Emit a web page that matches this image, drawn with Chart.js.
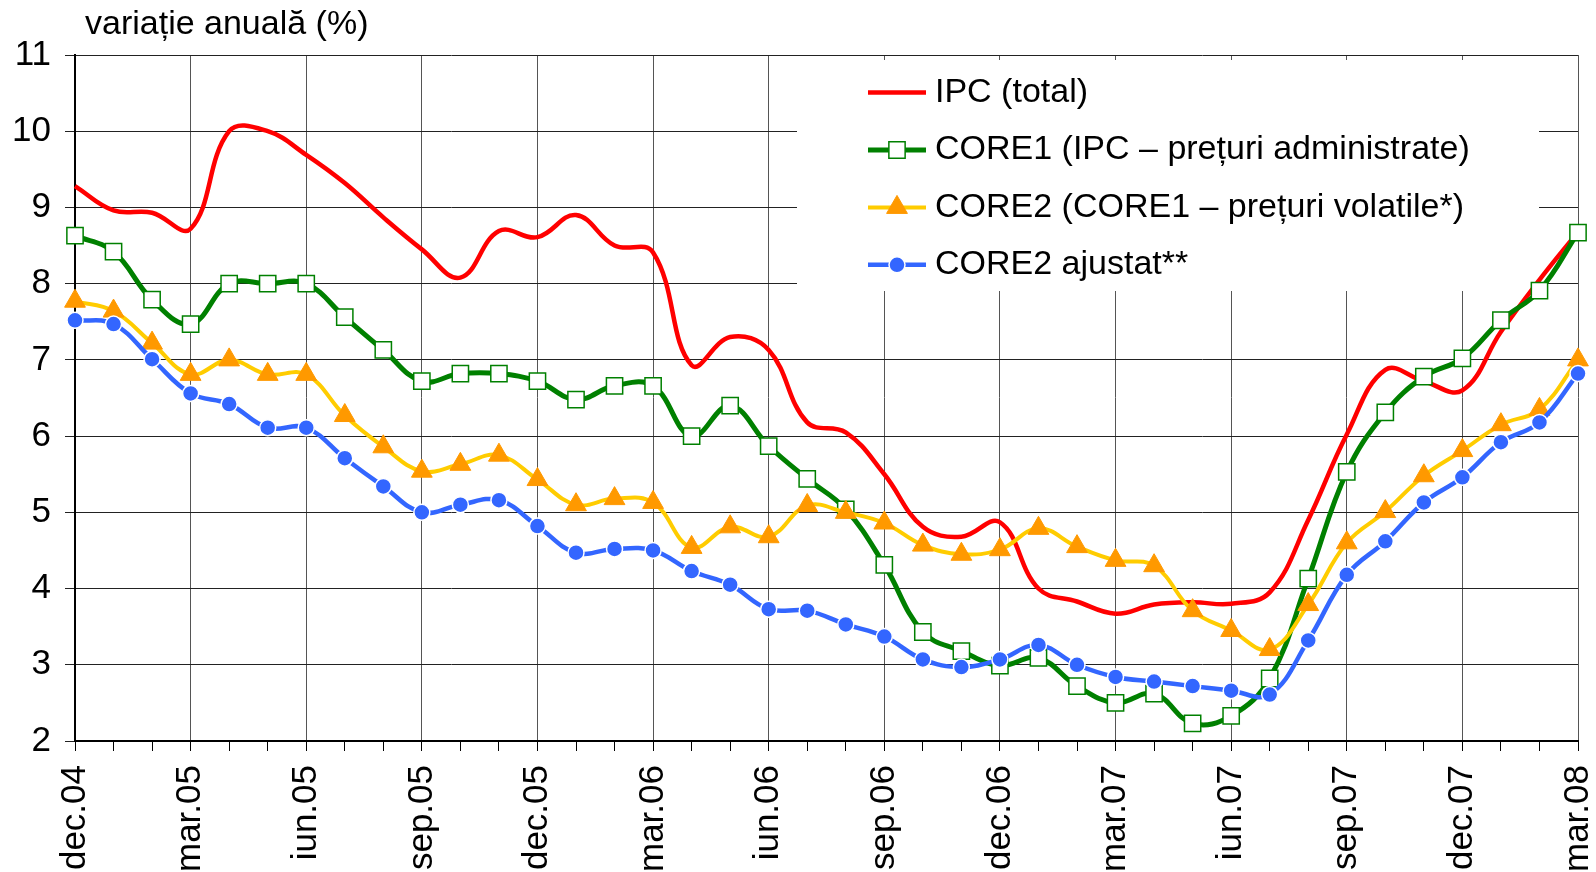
<!DOCTYPE html>
<html>
<head>
<meta charset="utf-8">
<script src="https://cdn.jsdelivr.net/npm/chart.js@4/dist/chart.umd.min.js"></script>
<style>
  html, body { margin: 0; padding: 0; background: #fff; }
  #wrap { width: 1596px; height: 872px; position: relative; }
</style>
</head>
<body>
<div id="wrap"><canvas id="myChart"></canvas></div>
<script>
const months = ['dec.04','ian.05','feb.05','mar.05','apr.05','mai.05','iun.05','iul.05','aug.05','sep.05',
  'oct.05','noi.05','dec.05','ian.06','feb.06','mar.06','apr.06','mai.06','iun.06','iul.06',
  'aug.06','sep.06','oct.06','noi.06','dec.06','ian.07','feb.07','mar.07','apr.07','mai.07',
  'iun.07','iul.07','aug.07','sep.07','oct.07','noi.07','dec.07','ian.08','feb.08','mar.08'];

const ipc = [9.28, 8.96, 8.93, 8.72, 10.0, 10.0, 9.69, 9.32, 8.87, 8.45,
  8.08, 8.69, 8.61, 8.90, 8.50, 8.41, 6.93, 7.30, 7.13, 6.18,
  6.05, 5.50, 4.81, 4.68, 4.87, 4.00, 3.83, 3.67, 3.79, 3.82,
  3.80, 3.95, 4.90, 6.02, 6.87, 6.72, 6.60, 7.37, 8.05, 8.68];

const core1 = [8.63, 8.42, 7.79, 7.47, 8.0, 8.0, 8.0, 7.56, 7.13, 6.72,
  6.82, 6.82, 6.72, 6.48, 6.66, 6.66, 6.0, 6.40, 5.87, 5.44,
  5.04, 4.31, 3.43, 3.18, 2.99, 3.09, 2.72, 2.50, 2.62, 2.23,
  2.33, 2.82, 4.13, 5.53, 6.31, 6.78, 7.02, 7.52, 7.91, 8.67];

const core2 = [7.77, 7.64, 7.22, 6.81, 7.0, 6.81, 6.81, 6.27, 5.86, 5.54,
  5.63, 5.75, 5.43, 5.10, 5.18, 5.13, 4.54, 4.81, 4.68, 5.09,
  5.0, 4.86, 4.57, 4.45, 4.51, 4.79, 4.55, 4.37, 4.30, 3.71,
  3.45, 3.20, 3.79, 4.60, 5.01, 5.48, 5.81, 6.15, 6.35, 7.0];

const core2adj = [7.52, 7.47, 7.01, 6.56, 6.42, 6.11, 6.11, 5.71, 5.34, 5.0,
  5.10, 5.16, 4.82, 4.47, 4.52, 4.50, 4.23, 4.05, 3.73, 3.71,
  3.53, 3.37, 3.07, 2.97, 3.07, 3.26, 3.0, 2.84, 2.78, 2.72,
  2.66, 2.61, 3.32, 4.18, 4.62, 5.13, 5.46, 5.92, 6.18, 6.82];

const yTicks = [2, 3, 4, 5, 6, 7, 8, 9, 10, 11];

const FONT = "'Liberation Sans', Arial, sans-serif";

// legend drawn inside the plot, on a white box over the gridlines
const boxLegend = {
  id: 'boxLegend',
  afterLayout(chart) {
    if (chart.titleBlock) {
      chart.titleBlock.left += 10;
      chart.titleBlock.right += 10;
    }
  },
  beforeDatasetsDraw(chart) {
    const ctx = chart.ctx;
    ctx.save();
    ctx.fillStyle = '#fff';
    ctx.fillRect(797, 60, 742, 231);
    ctx.font = '34px ' + FONT;
    ctx.textBaseline = 'middle';
    ctx.textAlign = 'left';
    chart.data.datasets.forEach((ds, i) => {
      const y = 92.6 + i * 57.4;
      ctx.strokeStyle = ds.borderColor;
      ctx.lineWidth = ds.borderWidth;
      ctx.beginPath();
      ctx.moveTo(868, y);
      ctx.lineTo(926, y);
      ctx.stroke();
      if (ds.pointRadius > 0) {
        ctx.fillStyle = ds.pointBackgroundColor;
        ctx.strokeStyle = ds.pointBorderColor;
        ctx.lineWidth = ds.pointBorderWidth;
        Chart.helpers.drawPoint(ctx, {
          pointStyle: ds.pointStyle, radius: ds.pointRadius,
          borderWidth: ds.pointBorderWidth, rotation: 0
        }, 897, y);
      }
      ctx.fillStyle = '#000';
      ctx.fillText(ds.label, 935, y);
    });
    ctx.restore();
  }
};

const ctx = document.getElementById('myChart').getContext('2d');

const myChart = new Chart(ctx, {
  type: 'line',
  data: {
    labels: months,
    datasets: [{
      label: 'IPC (total)',
      data: ipc,
      borderColor: '#ff0000',
      backgroundColor: '#ff0000',
      borderWidth: 4.5,
      pointRadius: 0,
      tension: 0.4,
      order: 4
    }, {
      label: 'CORE1 (IPC – prețuri administrate)',
      data: core1,
      borderColor: '#008000',
      backgroundColor: '#008000',
      borderWidth: 5,
      pointStyle: 'rect',
      pointRadius: 11.5,
      pointBackgroundColor: '#ffffff',
      pointBorderColor: '#008000',
      pointBorderWidth: 1.5,
      tension: 0.4,
      order: 3
    }, {
      label: 'CORE2 (CORE1 – prețuri volatile*)',
      data: core2,
      borderColor: '#ffcc00',
      backgroundColor: '#ffcc00',
      borderWidth: 4,
      pointStyle: 'triangle',
      pointRadius: 12,
      pointBackgroundColor: '#ff9900',
      pointBorderColor: '#ff9900',
      pointBorderWidth: 1,
      tension: 0.4,
      order: 2
    }, {
      label: 'CORE2 ajustat**',
      data: core2adj,
      borderColor: '#3366ff',
      backgroundColor: '#3366ff',
      borderWidth: 4.5,
      pointStyle: 'circle',
      pointRadius: 8,
      pointBackgroundColor: '#3366ff',
      pointBorderColor: '#ffffff',
      pointBorderWidth: 1.5,
      tension: 0.4,
      order: 1
    }]
  },
  options: {
    responsive: true,
    maintainAspectRatio: false,
    devicePixelRatio: 1,
    animation: false,
    layout: { padding: { left: 0, right: 18, top: 0, bottom: 0 } },
    plugins: {
      legend: { display: false },
      tooltip: { enabled: false },
      title: {
        display: true,
        text: 'variație anuală (%)',
        align: 'start',
        fullSize: false,
        color: '#000',
        font: { family: FONT, size: 34, weight: 'normal' },
        padding: { top: 4.5, bottom: 9.7 }
      }
    },
    scales: {
      x: {
        offset: false,
        grid: {
          color: c => (c.index % 3 === 0 ? '#555555' : 'rgba(0,0,0,0)'),
          tickColor: '#000',
          tickLength: 10,
          lineWidth: 1
        },
        border: { display: true, color: '#000', width: 2 },
        ticks: {
          autoSkip: false,
          minRotation: 90,
          maxRotation: 90,
          padding: 14,
          color: '#000',
          font: { family: FONT, size: 35 },
          callback: function (v, i) { return i % 3 === 0 ? months[i] : ''; }
        },
        afterFit: s => { s.height = 131; s.paddingLeft = 0; s.paddingRight = 0; }
      },
      y: {
        min: yTicks[0],
        max: yTicks[yTicks.length - 1],
        afterBuildTicks: s => { s.ticks = yTicks.map(v => ({ value: v })); },
        grid: { color: '#222222', tickColor: '#222', tickLength: 10, lineWidth: 1 },
        border: { display: true, color: '#000', width: 2 },
        ticks: {
          padding: 14,
          color: '#000',
          font: { family: FONT, size: 35 }
        },
        afterFit: s => { s.width = 75; }
      }
    }
  },
  plugins: [boxLegend]
});
</script>
</body>
</html>
